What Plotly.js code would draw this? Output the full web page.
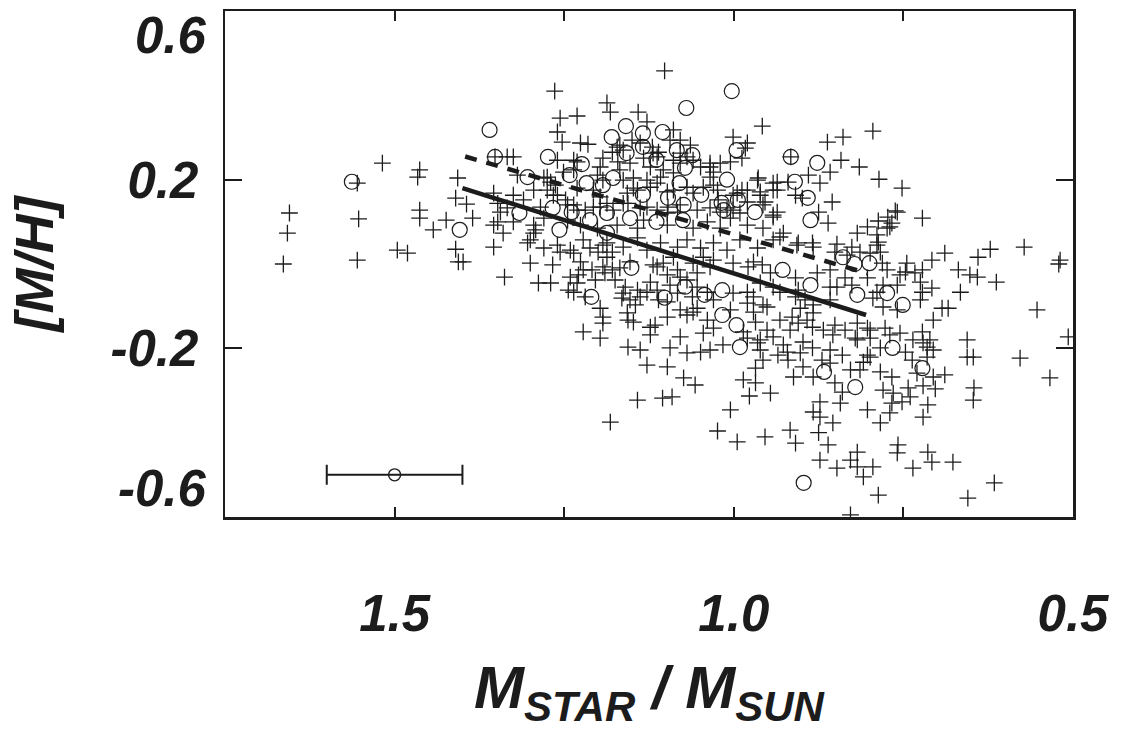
<!DOCTYPE html>
<html>
<head>
<meta charset="utf-8">
<script src="https://cdn.plot.ly/plotly-3.0.1.min.js"></script>
<style>
  html, body { margin: 0; padding: 0; background: #ffffff; }
  #chart { width: 1123px; height: 734px; }
</style>
</head>
<body>
<div id="chart"></div>
<script>
// ---- Data (x = M_star / M_sun, y = [M/H]) ----
// field stars (plus symbols): [mass, metallicity]
const plusStars = [
[1.664,0.0],[1.658,0.073],[1.655,0.121],[1.555,0.192],[1.553,0.107],[1.555,0.009],[1.518,0.239],[1.496,0.033],[1.481,0.026],[1.463,0.223],[1.466,0.206],[1.407,0.204],[1.463,0.128],[1.463,0.109],[1.41,0.156],[1.394,0.142],[1.424,0.104],[1.443,0.081],[1.385,0.109],[1.41,0.035],[1.354,0.04],[1.348,0.1],[1.406,0.005],[1.399,0.005],[1.354,0.168],[1.344,0.123],[1.34,0.073],[1.31,0.152],[1.3,0.057],[1.292,0.081],[1.334,0.254],[1.325,0.254],[1.352,0.254],
[1.102,0.458],[1.264,0.41],[1.187,0.382],[1.182,0.36],[1.141,0.36],[1.256,0.346],[1.231,0.351],[0.958,0.327],[1.26,0.313],[1.253,0.289],[1.226,0.287],[1.215,0.284],[1.26,0.246],[1.001,0.301],[0.98,0.287],[1.02,0.239],[1.005,0.242],[1.275,0.206],[1.27,0.194],[1.128,0.337],[1.089,0.318],[1.079,0.294],[1.064,0.282],[1.138,0.287],[1.12,0.277],[1.111,0.265],[1.172,0.277],[1.163,0.27],[1.15,0.294],[1.236,0.246],[1.179,0.265],[1.171,0.242],[1.193,0.251],[1.197,0.23],[1.153,0.239],[1.133,0.251],[1.123,0.23],[1.113,0.254],[1.104,0.223],[1.089,0.246],[1.079,0.263],[1.069,0.254],[1.049,0.23],[1.035,0.23],[1.035,0.206],[1.263,0.187],[1.193,0.199],[1.163,0.199],[1.148,0.204],[1.157,0.168],[1.142,0.175],[1.123,0.182],[1.113,0.192],[1.089,0.175],[1.069,0.182],[1.06,0.168],[1.045,0.182],[1.024,0.175],[1.023,0.152],[0.995,0.168],[1.266,0.163],[1.248,0.152],[1.236,0.14],[1.219,0.128],[1.197,0.135],[1.187,0.144],[1.156,0.144],[1.138,0.133],[1.113,0.128],[1.097,0.135],[1.083,0.123],[1.054,0.128],[1.035,0.133],[1.02,0.123],[1.001,0.128],
[1.231,0.242],[1.119,0.263],[1.079,0.239],[1.06,0.246],[1.035,0.239],[1.168,0.282],[1.094,0.294],
[1.319,0.211],[1.28,0.204],[1.251,0.218],[1.236,0.223],[1.201,0.211],[1.168,0.223],[1.128,0.199],[1.108,0.206],[1.089,0.216],[1.03,0.218],[0.965,0.199],[0.942,0.192],
[1.325,0.163],[1.295,0.175],[1.275,0.175],[1.26,0.163],[1.231,0.18],[1.207,0.175],[1.197,0.159],[1.148,0.18],[1.098,0.171],[1.03,0.187],[1.001,0.163],[0.98,0.175],[0.961,0.163],[0.942,0.175],
[1.348,0.144],[1.334,0.133],[1.285,0.135],[1.245,0.14],[1.231,0.128],[1.207,0.135],[1.178,0.128],[1.163,0.144],[1.128,0.135],[1.098,0.121],[1.079,0.14],[1.01,0.133],[0.991,0.121],[0.957,0.14],[0.936,0.123],
[1.354,0.092],[1.325,0.1],[1.295,0.092],[1.28,0.109],[1.245,0.104],[1.226,0.092],[1.201,0.085],[1.172,0.092],[1.142,0.085],[1.133,0.104],[1.098,0.092],[1.06,0.085],[1.039,0.1],[1.02,0.085],[1.005,0.109],[0.98,0.092],[0.957,0.085],
[1.304,0.05],[1.295,0.073],[1.28,0.038],[1.26,0.045],[1.241,0.033],[1.222,0.057],[1.212,0.038],[1.187,0.05],[1.163,0.04],[1.142,0.062],[1.128,0.033],[1.108,0.05],[1.083,0.04],[1.069,0.057],[1.049,0.038],[1.03,0.05],[1.01,0.033],[0.991,0.057],[0.965,0.038],[0.942,0.057],
[1.256,0.028],[1.236,0.026],[1.2,0.028],[1.193,0.045],[1.187,0.016],[1.179,0.028],
[1.267,-0.002],[1.27,-0.045],[1.241,-0.031],[1.229,-0.026],[1.231,-0.045],[1.222,-0.014],[1.209,-0.014],[1.204,-0.038],
[1.244,-0.062],[1.236,-0.067],[1.219,-0.078],
[1.193,-0.007],[1.19,-0.021],[1.179,-0.014],[1.175,-0.038],[1.168,-0.009],
[1.16,-0.055],[1.165,-0.081],[1.153,-0.085],[1.142,-0.062],[1.145,-0.097],[1.128,-0.067],[1.123,-0.043],
[1.197,-0.105],[1.193,-0.126],[1.193,-0.14],[1.222,-0.161],[1.197,-0.176],
[1.157,-0.116],[1.156,-0.133],[1.138,-0.078],[1.123,-0.15],[1.116,-0.145],[1.111,-0.085],[1.098,-0.09],
[1.113,-0.007],[1.104,0.002],[1.098,-0.026],[1.083,-0.014],[1.079,-0.031],[1.069,-0.038],[1.089,0.016],[1.06,0.002],[1.054,-0.021],[1.045,0.016],[1.035,-0.007],[1.03,0.009],
[1.094,-0.05],[1.083,-0.069],[1.061,-0.078],[1.054,-0.055],[1.039,-0.067],[1.03,-0.085],
[1.079,-0.109],[1.069,-0.121],[1.054,-0.105],[1.039,-0.133],[1.03,-0.152],[1.005,-0.109],
[1.123,-0.168],[1.079,-0.173],[1.045,-0.164],[1.016,-0.192],[1.035,-0.204],[1.094,-0.199],[1.156,-0.197],[1.138,-0.204],[1.069,-0.211],
[1.3,0.002],[1.226,0.005],[1.153,0.005],[1.119,-0.002],[1.001,0.002],[0.971,0.005],
[1.338,-0.031],[1.288,-0.045],[1.163,-0.069],[1.113,-0.062],[1.06,-0.114],[1.001,-0.069],[0.98,-0.067],[0.971,-0.078],[0.951,-0.102],[0.986,-0.161],[0.98,-0.176],[1.148,-0.138],[1.098,-0.126],[1.049,-0.209],[0.961,-0.204],[1.128,-0.24],[1.098,-0.244],[1.074,-0.27],[1.057,-0.287],[1.142,-0.323],[1.105,-0.318],[1.091,-0.315],[1.182,-0.375],[1.005,-0.346],[1.024,-0.396],[0.995,-0.422],[0.954,-0.41],[0.977,-0.313],[0.946,-0.306],[0.986,-0.275],[0.968,-0.282],[0.968,-0.247],[0.957,-0.228],[0.965,-0.187],[0.951,-0.157],
[0.795,0.315],[0.862,0.289],[0.839,0.301],[0.916,0.254],[0.842,0.246],[0.858,0.218],[0.815,0.23],[0.786,0.201],[0.752,0.18],[0.936,0.194],[0.936,0.175],[0.89,0.211],[0.873,0.192],[0.909,0.163],[0.899,0.156],[0.855,0.147],[0.875,0.123],[0.861,0.097],[0.942,0.111],[0.818,0.073],[0.803,0.088],[0.787,0.102],[0.773,0.111],[0.762,0.126],[0.77,0.088],[0.722,0.109],[0.927,0.073],[0.907,0.045],[0.883,0.04],[0.848,0.047],[0.826,0.04],[0.814,0.028],[0.787,0.052],[0.689,0.026],[0.622,0.035],[0.572,0.04],[0.64,0.016],[0.519,0.009],
[0.983,0.275],[0.988,0.251],[0.964,0.204],[0.961,0.171],[0.92,0.194],[0.988,0.175],[0.98,0.147],[0.954,0.147],[0.942,0.116],[0.759,0.123],
[0.932,0.064],[0.905,0.05],[0.884,0.05],[0.789,0.069],[0.789,0.045],[0.774,0.085],[0.767,0.097],[0.851,0.028],[0.833,0.021],[0.799,0.026],[0.784,0.028],[0.781,0.002],[0.774,-0.014],[0.745,0.002],[0.747,-0.019],[0.755,-0.026],[0.733,-0.021],[0.725,-0.043],[0.722,-0.014],[0.708,0.009],[0.958,-0.002],[0.946,-0.021],[0.979,-0.007],[0.961,-0.045],[0.942,-0.055],[0.932,-0.067],[0.909,-0.033],[0.905,-0.062],[0.877,-0.021],[0.858,-0.014],[0.858,-0.055],[0.836,-0.033],[0.826,-0.05],[0.803,-0.033],[0.789,-0.067],[0.78,-0.05],[0.795,-0.081],[0.722,-0.067],[0.708,-0.057],[0.725,-0.085],[0.78,-0.102],[0.759,-0.109],[0.909,-0.078],[0.895,-0.085],[0.883,-0.097],[0.902,-0.105],[0.883,-0.116],[0.858,-0.085],[0.98,-0.093],[0.957,-0.097],[0.971,-0.114],[0.968,-0.138],[0.932,-0.133],[0.914,-0.126],[0.905,-0.14],[0.917,-0.157],[0.892,-0.133],[0.884,-0.15],[0.868,-0.157],[0.851,-0.145],[0.836,-0.157],[0.818,-0.14],[0.803,-0.152],[0.821,-0.176],[0.799,-0.176],[0.777,-0.152],[0.77,-0.168],[0.755,-0.164],[0.736,-0.18],[0.722,-0.161],[0.715,-0.197],[0.706,-0.133],[0.961,-0.18],[0.942,-0.173],[0.927,-0.192],[0.921,-0.209],[0.902,-0.211],[0.884,-0.199],[0.858,-0.204],[0.84,-0.216],[0.803,-0.216],[0.784,-0.199],[0.747,-0.209],[0.715,-0.221],
[0.521,0.0],[0.669,-0.014],[0.652,-0.026],[0.641,-0.031],[0.613,-0.043],[0.666,-0.067],[0.693,-0.105],[0.684,-0.105],[0.553,-0.109],[0.799,-0.157],[0.721,-0.187],[0.711,-0.18],[0.706,-0.204],[0.656,-0.18],[0.656,-0.221],[0.647,-0.221],[0.578,-0.223],[0.507,-0.173],[0.534,-0.27],[0.737,-0.228],[0.73,-0.259],[0.706,-0.268],[0.689,-0.263],[0.784,-0.256],[0.767,-0.268],[0.828,-0.251],[0.814,-0.251],[0.809,-0.233],[0.799,-0.221],[0.721,-0.289],[0.703,-0.296],[0.743,-0.294],[0.74,-0.315],[0.78,-0.299],[0.765,-0.306],[0.767,-0.33],[0.77,-0.353],[0.752,-0.327],[0.714,-0.334],[0.721,-0.363],[0.646,-0.294],[0.647,-0.323],[0.803,-0.346],[0.784,-0.377],[0.843,-0.33],[0.851,-0.282],[0.84,-0.304],[0.87,-0.228],[0.858,-0.235],[0.883,-0.268],[0.898,-0.244],[0.912,-0.268],[0.873,-0.327],[0.883,-0.351],[0.873,-0.363],[0.854,-0.377],[0.917,-0.394],[0.909,-0.425],[0.875,-0.4],[0.861,-0.429],[0.818,-0.446],[0.828,-0.465],[0.818,-0.481],[0.809,-0.505],[0.795,-0.481],[0.848,-0.484],[0.873,-0.465],[0.758,-0.429],[0.759,-0.448],[0.714,-0.446],[0.708,-0.47],[0.677,-0.47],[0.736,-0.484],[0.787,-0.548],[0.828,-0.595],[0.655,-0.555],[0.616,-0.519],[0.848,-0.055],[0.759,-0.05],[0.854,-0.168],[0.818,-0.18],[0.898,-0.185],[0.92,-0.228],[0.935,-0.216]
];

// planet-host stars (open circles): [mass, metallicity]
const circleStars = [
[1.563,0.195],[1.404,0.081],[1.36,0.318],[1.352,0.254],[1.304,0.206],[1.274,0.254],[1.316,0.121],[1.267,0.133],[1.257,0.081],[1.242,0.211],
[1.239,0.123],[1.224,0.237],[1.217,0.192],[1.212,0.104],[1.21,-0.078],[1.193,0.187],[1.187,0.121],[1.187,0.074],[1.18,0.301],[1.178,0.204],
[1.159,0.327],[1.158,0.263],[1.153,0.109],[1.151,-0.009],[1.134,0.31],[1.134,0.278],[1.134,0.164],[1.114,0.247],[1.114,0.1],[1.105,0.313],
[1.102,-0.08],[1.097,0.157],[1.084,0.27],[1.08,0.192],[1.075,0.104],[1.072,0.228],[1.072,-0.054],[1.07,0.37],[1.061,0.258],[1.048,0.164],
[1.043,-0.073],[1.018,0.145],[1.017,-0.062],[1.017,-0.121],[1.01,0.2],[1.003,0.41],[0.996,0.27],[0.994,0.152],[0.996,-0.145],[0.991,-0.197],
[0.969,0.123],[0.928,-0.014],[0.916,0.254],[0.91,0.195],[0.891,0.157],[0.887,0.104],[0.887,-0.05],[0.877,0.24],[0.867,-0.256],[0.839,0.016],
[0.822,0.0],[0.8,0.002],[0.821,-0.292],[0.818,-0.073],[0.774,-0.069],[0.766,-0.199],[0.751,-0.097],[0.897,-0.519],[0.722,-0.247],[1.074,0.14],
[1.015,0.128]
];

// linear fits (end points)
const fitSolidX = [1.40, 0.805];
const fitSolidY = [0.18, -0.121];
const fitDashX = [1.396, 0.803];
const fitDashY = [0.255, -0.022];

// typical error bar sample
const errX = [1.5];
const errY = [-0.5];
const errHalfWidth = [0.1];

// axis ticks
const xTickVals = [1.5, 1.0, 0.5];
const xTickText = ['1.5', '1.0', '0.5'];
const xMinorTickVals = [1.25, 0.75];
const yTickVals = [0.2, -0.2];
const yTickText = ['0.2', '-0.2'];
const yEdgeLabels = [[0.6, '0.6'], [-0.6, '-0.6']];

// ---- Drawing ----
const ink = '#1c1c1c';
const fam = 'Liberation Sans, Arial, Helvetica, sans-serif';
const bigFont = { family: fam, size: 51, color: ink, weight: 'bold', style: 'italic' };

const traces = [
  {
    type: 'scatter', mode: 'markers',
    x: plusStars.map(p => p[0]), y: plusStars.map(p => p[1]),
    marker: { symbol: 'cross-thin-open', size: 12, color: ink, line: { color: ink, width: 1.3 } },
    hoverinfo: 'x+y', showlegend: false
  },
  {
    type: 'scatter', mode: 'markers',
    x: circleStars.map(p => p[0]), y: circleStars.map(p => p[1]),
    marker: { symbol: 'circle-open', size: 15, color: ink, line: { color: ink, width: 1.2 } },
    hoverinfo: 'x+y', showlegend: false
  },
  {
    type: 'scatter', mode: 'lines', x: fitSolidX, y: fitSolidY,
    line: { color: ink, width: 4.5 }, showlegend: false
  },
  {
    type: 'scatter', mode: 'lines', x: fitDashX, y: fitDashY,
    line: { color: ink, width: 4.5, dash: '12px,10px' }, showlegend: false
  },
  {
    type: 'scatter', mode: 'markers', x: errX, y: errY,
    marker: { symbol: 'circle-open', size: 12, color: ink, line: { color: ink, width: 1.4 } },
    error_x: { type: 'data', array: errHalfWidth, symmetric: true, color: ink, thickness: 2, width: 10 },
    showlegend: false
  }
];

const layout = {
  width: 1123, height: 734,
  margin: { l: 225, r: 50, t: 11, b: 217, pad: 0 },
  paper_bgcolor: '#ffffff', plot_bgcolor: '#ffffff',
  showlegend: false,
  xaxis: {
    range: [1.75, 0.5],
    tickmode: 'array', tickvals: xTickVals, ticktext: xTickText,
    ticks: 'inside', ticklen: 10, tickwidth: 2, tickcolor: ink,
    minor: { tickmode: 'array', tickvals: xMinorTickVals, ticks: 'inside', ticklen: 10, tickwidth: 2, tickcolor: ink, showgrid: false },
    showline: true, linecolor: ink, linewidth: 2.5, mirror: 'ticks',
    showgrid: false, zeroline: false,
    tickfont: bigFont,
    ticklabelstandoff: 50,
    title: {
      text: 'M<sub>STAR</sub> / M<sub>SUN</sub>',
      font: { family: fam, size: 60, color: ink, weight: 'bold', style: 'italic' },
      standoff: 26
    }
  },
  yaxis: {
    range: [-0.6, 0.6],
    tickmode: 'array', tickvals: yTickVals, ticktext: yTickText,
    ticks: 'inside', ticklen: 17, tickwidth: 2, tickcolor: ink,
    showline: true, linecolor: ink, linewidth: 2.5, mirror: 'ticks',
    showgrid: false, zeroline: false,
    tickfont: bigFont,
    ticklabelstandoff: 14,
    title: {
      text: '[M/H]',
      font: { family: fam, size: 54, color: ink, weight: 'bold', style: 'italic' },
      standoff: 40
    }
  },
  annotations: yEdgeLabels.map(([v, t]) => ({
    xref: 'paper', yref: 'y', x: 0, y: v,
    xanchor: 'right', yanchor: 'middle',
    xshift: -16, yshift: v > 0 ? -24 : 29,
    text: t, showarrow: false, font: bigFont
  }))
};

Plotly.newPlot('chart', traces, layout, { displayModeBar: false, staticPlot: true });
</script>
</body>
</html>
